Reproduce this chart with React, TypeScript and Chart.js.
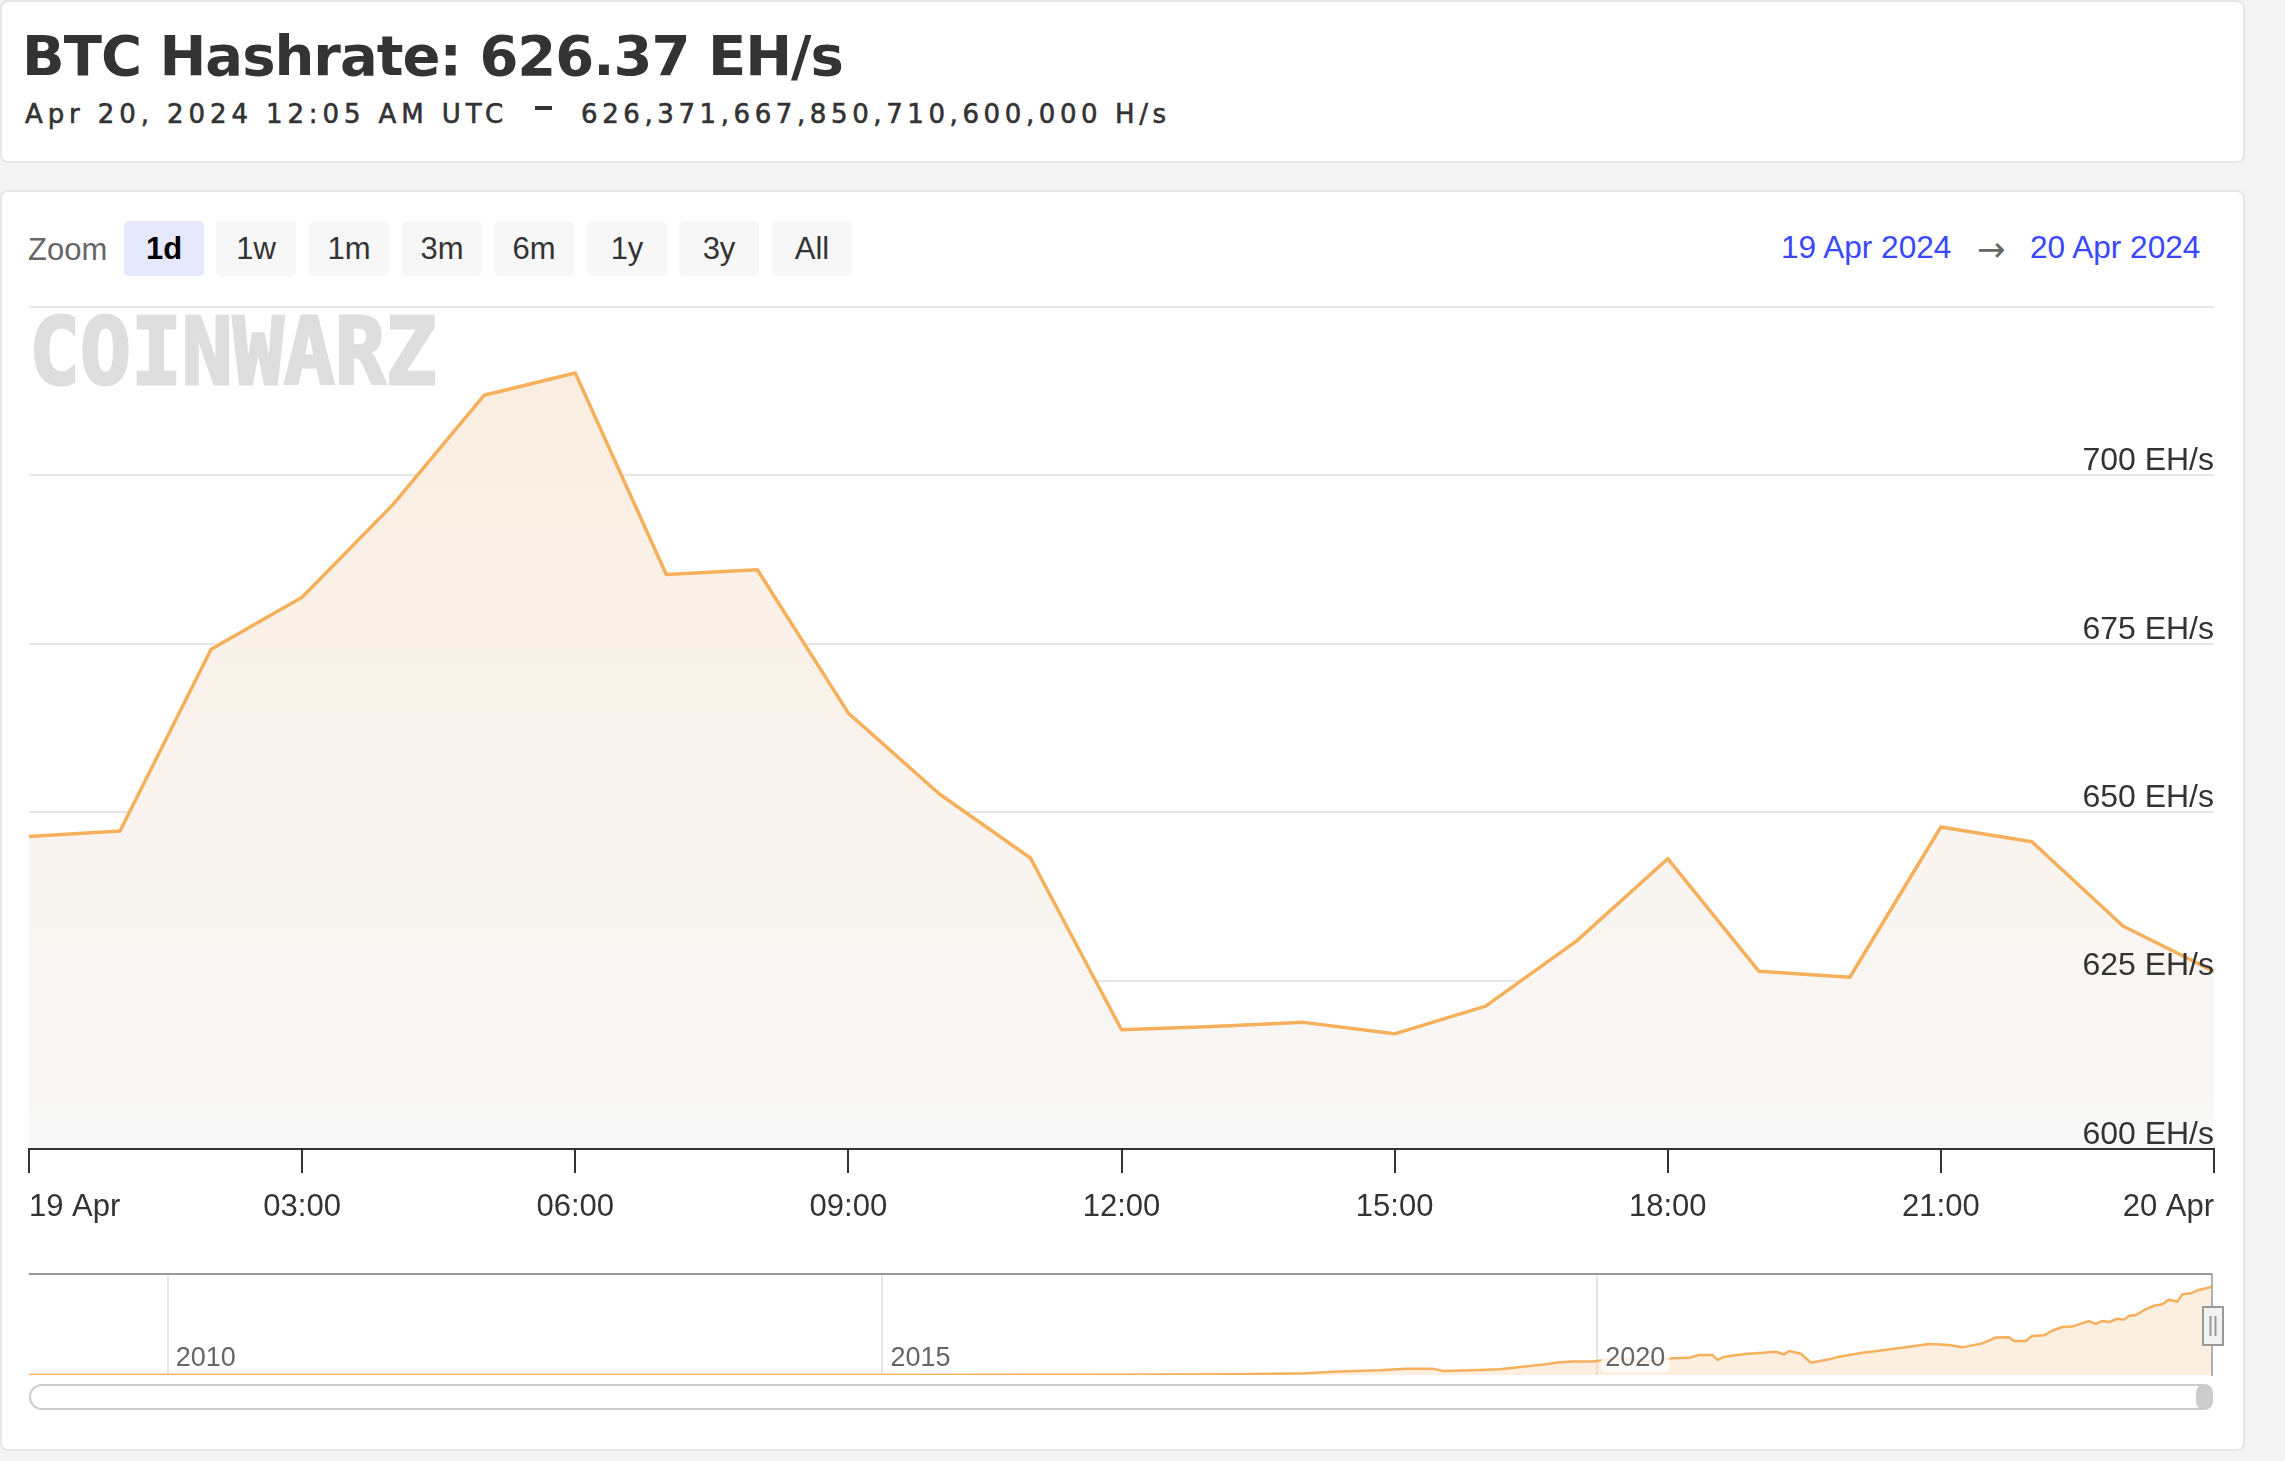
import React, { useEffect, useRef } from 'react';
import { Chart, registerables } from 'chart.js';

Chart.register(...registerables);

// ---------- data ----------
const hours = [0, 1, 2, 3, 4, 5, 6, 7, 8, 9, 10, 11, 12, 13, 14, 15, 16, 17, 18, 19, 20, 21, 22, 23, 24];
const hashrateEH = [
  646.4, 647.2, 674.2, 681.9, 695.7, 711.9, 715.2, 685.3, 686.0, 664.7, 652.7, 643.2,
  617.7, 618.2, 618.8, 617.1, 621.2, 630.9, 643.1, 626.4, 625.5, 647.8, 645.6, 633.1, 626.37,
];
const xTickLabels = ['19 Apr', '03:00', '06:00', '09:00', '12:00', '15:00', '18:00', '21:00', '20 Apr'];
const yTicks = [600, 625, 650, 675, 700, 725];

const navYears = [
  2009.03, 2010.0, 2011.0, 2012.0, 2013.0, 2014.0, 2015.0, 2016.0, 2016.5, 2017.0,
  2017.497, 2017.964, 2018.197, 2018.476, 2018.663, 2018.849, 2018.919, 2019.128, 2019.315, 2019.478,
  2019.641, 2019.734, 2019.827, 2019.967, 2020.061, 2020.201, 2020.364, 2020.526, 2020.643, 2020.713,
  2020.806, 2020.841, 2020.876, 2020.923, 2021.039, 2021.249, 2021.307, 2021.342, 2021.424, 2021.494,
  2021.622, 2021.692, 2021.855, 2021.971, 2022.181, 2022.321, 2022.461, 2022.554, 2022.693, 2022.787,
  2022.88, 2022.915, 2022.997, 2023.041, 2023.125, 2023.183, 2023.253, 2023.323, 2023.369, 2023.439,
  2023.486, 2023.532, 2023.579, 2023.637, 2023.684, 2023.719, 2023.766, 2023.836, 2023.894, 2023.952,
  2023.999, 2024.057, 2024.092, 2024.15, 2024.208, 2024.278, 2024.3,
];
const navHashrate = [
  0, 0.000008, 0.00001, 0.00002, 0.01, 0.15, 0.4, 0.9, 1.5, 2.8,
  5, 12, 24, 33, 45, 45, 28, 33, 40, 59,
  76, 90, 95, 95, 109, 113, 95, 118, 123, 142,
  142, 106, 125, 135, 149, 165, 146, 170, 151, 87,
  111, 130, 158, 172, 201, 220, 213, 196, 224, 265,
  267, 241, 241, 276, 281, 314, 340, 343, 359, 383,
  362, 383, 376, 399, 392, 418, 425, 466, 491, 501,
  534, 520, 572, 579, 603, 619, 631,
];
const navYearLabels = [2010, 2015, 2020];
const zoomButtons = ['1d', '1w', '1m', '3m', '6m', '1y', '3y', 'All'];
const selectedZoom = '1d';
const dateFrom = '19 Apr 2024';
const dateTo = '20 Apr 2024';
const titleText = 'BTC Hashrate: 626.37 EH/s';
const subtitleDate = 'Apr 20, 2024 12:05 AM UTC';
const subtitleValue = '626,371,667,850,710,600,000 H/s';

// ---------- styles ----------
const FONT = "'Liberation Sans', Arial, Helvetica, sans-serif";
const LINE = '#f6b05c';

function T(props: any) {
  const { x, base, size, family = FONT, weight = 400, color = '#333', spacing = 0, children, style } = props;
  return (
    <div
      style={{
        position: 'absolute',
        left: x,
        top: base - 0.846 * size,
        fontSize: size,
        lineHeight: `${size}px`,
        fontFamily: family,
        fontWeight: weight,
        color,
        letterSpacing: spacing,
        whiteSpace: 'nowrap',
        ...style,
      }}
    >
      {children}
    </div>
  );
}

const navPlugin = {
  id: 'navDecor',
  afterDatasetsDraw(chart: any) {
    const { ctx, chartArea: a, scales } = chart;
    const xs = scales.x;
    ctx.save();
    // year labels
    ctx.font = `27px ${FONT}`;
    ctx.textBaseline = 'alphabetic';
    navYearLabels.forEach((yr) => {
      const px = xs.getPixelForValue(yr);
      const label = String(yr);
      const w = ctx.measureText(label).width;
      const bx = px + 8;
      const by = a.bottom - 9;
      ctx.fillStyle = 'rgba(255,255,255,0.8)';
      ctx.beginPath();
      ctx.roundRect(bx - 4, by - 24, w + 8, 30, 4);
      ctx.fill();
      ctx.fillStyle = '#666';
      ctx.fillText(label, bx, by);
    });
    // outline top
    ctx.strokeStyle = '#999';
    ctx.lineWidth = 2;
    ctx.beginPath();
    ctx.moveTo(a.left, a.top);
    ctx.lineTo(a.right, a.top);
    ctx.stroke();
    // right edge line
    ctx.lineWidth = 1.5;
    ctx.beginPath();
    ctx.moveTo(a.right, a.top);
    ctx.lineTo(a.right, a.bottom + 1);
    ctx.stroke();
    // handle
    const hx = a.right + 1;
    const hy = a.top + 33;
    ctx.fillStyle = '#f2f2f2';
    ctx.strokeStyle = '#999';
    ctx.lineWidth = 2;
    ctx.beginPath();
    ctx.rect(hx - 10, hy, 20, 38);
    ctx.fill();
    ctx.stroke();
    ctx.lineWidth = 2;
    ctx.beginPath();
    ctx.moveTo(hx - 2.5, hy + 9);
    ctx.lineTo(hx - 2.5, hy + 29);
    ctx.moveTo(hx + 2.5, hy + 9);
    ctx.lineTo(hx + 2.5, hy + 29);
    ctx.stroke();
    ctx.restore();
  },
};

function mainConfig(): any {
  return {
    type: 'line',
    data: {
      datasets: [
        {
          data: hours.map((h, i) => ({ x: h, y: hashrateEH[i] })),
          borderColor: LINE,
          borderWidth: 3.5,
          pointRadius: 0,
          tension: 0,
          borderJoinStyle: 'round',
          fill: 'start',
          backgroundColor: (c: any) => {
            const ch = c.chart;
            const a = ch.chartArea;
            if (!a) return 'rgba(0,0,0,0)';
            const g = ch.ctx.createLinearGradient(0, a.top, 0, a.bottom);
            g.addColorStop(0, '#faede0');
            g.addColorStop(1, '#f8f8f8');
            return g;
          },
        },
      ],
    },
    options: {
      responsive: false,
      animation: false,
      devicePixelRatio: 1,
      layout: { padding: { left: 10, right: 10, top: 10, bottom: 11 } },
      plugins: { legend: { display: false }, tooltip: { enabled: false } },
      scales: {
        x: {
          type: 'linear',
          position: 'bottom',
          min: 0,
          max: 24,
          afterBuildTicks: (s: any) => {
            s.ticks = xTickLabels.map((_, i) => ({ value: i * 3 }));
          },
          ticks: {
            callback: (_v: any, i: number) => xTickLabels[i],
            align: 'inner',
            padding: 16,
            maxRotation: 0,
            autoSkip: false,
            color: '#333',
            font: { family: FONT, size: 31 },
          },
          grid: {
            display: true,
            drawOnChartArea: false,
            drawTicks: true,
            tickLength: 24,
            tickColor: '#333',
            tickWidth: 2,
            color: '#333',
            lineWidth: 2,
          },
          border: { display: true, color: '#333', width: 2, z: 1 },
          afterFit: (s: any) => {
            s.height = 80;
            s.paddingLeft = 0;
            s.paddingRight = 0;
          },
        },
        y: {
          type: 'linear',
          position: 'right',
          min: 600,
          max: 725,
          afterBuildTicks: (s: any) => {
            s.ticks = yTicks.map((v) => ({ value: v }));
          },
          ticks: {
            mirror: true,
            padding: 0,
            labelOffset: -14,
            callback: (v: any) => (v === 725 ? '' : `${v} EH/s`),
            color: '#333',
            font: { family: FONT, size: 32 },
            z: 1,
          },
          grid: {
            color: (c: any) => (c.tick && c.tick.value === 600 ? 'rgba(0,0,0,0)' : '#e6e6e6'),
            lineWidth: 2,
            drawTicks: false,
          },
          border: { display: false },
          afterFit: (s: any) => {
            s.width = 0;
            s.paddingTop = 0;
            s.paddingBottom = 0;
          },
        },
      },
    },
  };
}

function navConfig(): any {
  return {
    type: 'line',
    data: {
      datasets: [
        {
          data: navYears.map((x, i) => ({ x, y: navHashrate[i] })),
          borderColor: LINE,
          borderWidth: 2.5,
          pointRadius: 0,
          tension: 0,
          fill: 'start',
          backgroundColor: 'rgba(246,176,94,0.2)',
        },
      ],
    },
    options: {
      responsive: false,
      animation: false,
      devicePixelRatio: 1,
      layout: { padding: { left: 10, right: 33, top: 10, bottom: 11 } },
      plugins: { legend: { display: false }, tooltip: { enabled: false } },
      scales: {
        x: {
          type: 'linear',
          min: 2009.03,
          max: 2024.3,
          afterBuildTicks: (s: any) => {
            s.ticks = navYearLabels.map((v) => ({ value: v }));
          },
          ticks: { display: false },
          grid: { color: '#e6e6e6', lineWidth: 2, drawTicks: false },
          border: { display: false },
          afterFit: (s: any) => {
            s.height = 0;
            s.paddingLeft = 0;
            s.paddingRight = 0;
          },
        },
        y: { display: false, min: 0, max: 716 },
      },
    },
    plugins: [navPlugin],
  };
}

const btnLefts = [124, 216, 309, 402, 494, 587, 679, 772];

export default function App() {
  const mainRef = useRef<HTMLCanvasElement>(null);
  const navRef = useRef<HTMLCanvasElement>(null);

  useEffect(() => {
    const charts: Chart[] = [];
    if (mainRef.current) charts.push(new Chart(mainRef.current, mainConfig()));
    if (navRef.current) charts.push(new Chart(navRef.current, navConfig()));
    return () => charts.forEach((c) => c.destroy());
  }, []);

  return (
    <div style={{ position: 'relative', width: 2285, height: 1461, overflow: 'hidden', background: '#f4f4f4' }}>
      <style>{'body{margin:0;background:#f4f4f4;}'}</style>

      {/* header card */}
      <div
        style={{
          position: 'absolute', left: 0, top: 0, width: 2245, height: 163, boxSizing: 'border-box',
          background: '#fff', border: '2px solid #e6e6e6', borderRadius: 8,
        }}
      />
      <T x={22} base={75} size={56} family="'DejaVu Sans', sans-serif" weight={700} spacing={-1} color="#333">
        {titleText}
      </T>
      <T x={25} base={123} size={26} family="'DejaVu Sans', sans-serif" spacing={4.9} color="#333"
        style={{ WebkitTextStroke: '0.6px #333' }}>
        {subtitleDate}
      </T>
      <div style={{ position: 'absolute', left: 535, top: 106, width: 17, height: 4, background: '#333' }} />
      <T x={581} base={123} size={26} family="'DejaVu Sans', sans-serif" spacing={4.6} color="#333"
        style={{ WebkitTextStroke: '0.6px #333' }}>
        {subtitleValue}
      </T>

      {/* chart card */}
      <div
        style={{
          position: 'absolute', left: 0, top: 190, width: 2245, height: 1261, boxSizing: 'border-box',
          background: '#fff', border: '2px solid #e6e6e6', borderRadius: 8,
        }}
      />
      <T x={28} base={260} size={31} color="#666">Zoom</T>
      {zoomButtons.map((b, i) => {
        const sel = b === selectedZoom;
        return (
          <div
            key={b}
            style={{
              position: 'absolute', left: btnLefts[i], top: 221, width: 80, height: 55, borderRadius: 5,
              background: sel ? '#e6e8fd' : '#f7f7f7', color: sel ? '#000' : '#333',
              fontFamily: FONT, fontSize: 31, lineHeight: '55px', textAlign: 'center',
              fontWeight: sel ? 700 : 400,
            }}
          >
            {b}
          </div>
        );
      })}
      <T x={1781} base={259} size={31.6} color="#3a48ff">{dateFrom}</T>
      <T x={1977} base={261} size={34} family="'DejaVu Sans', sans-serif" color="#666">→</T>
      <T x={2030} base={259} size={31.6} color="#3a48ff">{dateTo}</T>

      <canvas
        ref={mainRef}
        width={2205}
        height={943}
        style={{ position: 'absolute', left: 19, top: 297, width: 2205, height: 943 }}
      />
      <div
        style={{
          position: 'absolute', left: 29, top: 385 - 0.846 * 93, fontFamily: "'DejaVu Sans Mono', monospace",
          fontWeight: 700, fontSize: 93, lineHeight: '93px', color: '#dedede', transform: 'scaleX(0.91)',
          transformOrigin: 'left top', whiteSpace: 'nowrap', WebkitTextStroke: '3px #dedede',
        }}
      >
        COINWARZ
      </div>

      {/* navigator */}
      <canvas
        ref={navRef}
        width={2226}
        height={122}
        style={{ position: 'absolute', left: 19, top: 1264, width: 2226, height: 122 }}
      />
      <div
        style={{
          position: 'absolute', left: 29, top: 1384, width: 2184, height: 26, boxSizing: 'border-box',
          border: '2px solid #cccccc', borderRadius: 13, background: '#fff',
        }}
      />
      <div style={{ position: 'absolute', left: 2196, top: 1384, width: 17, height: 26, borderRadius: 9, background: '#cccccc' }} />
    </div>
  );
}
